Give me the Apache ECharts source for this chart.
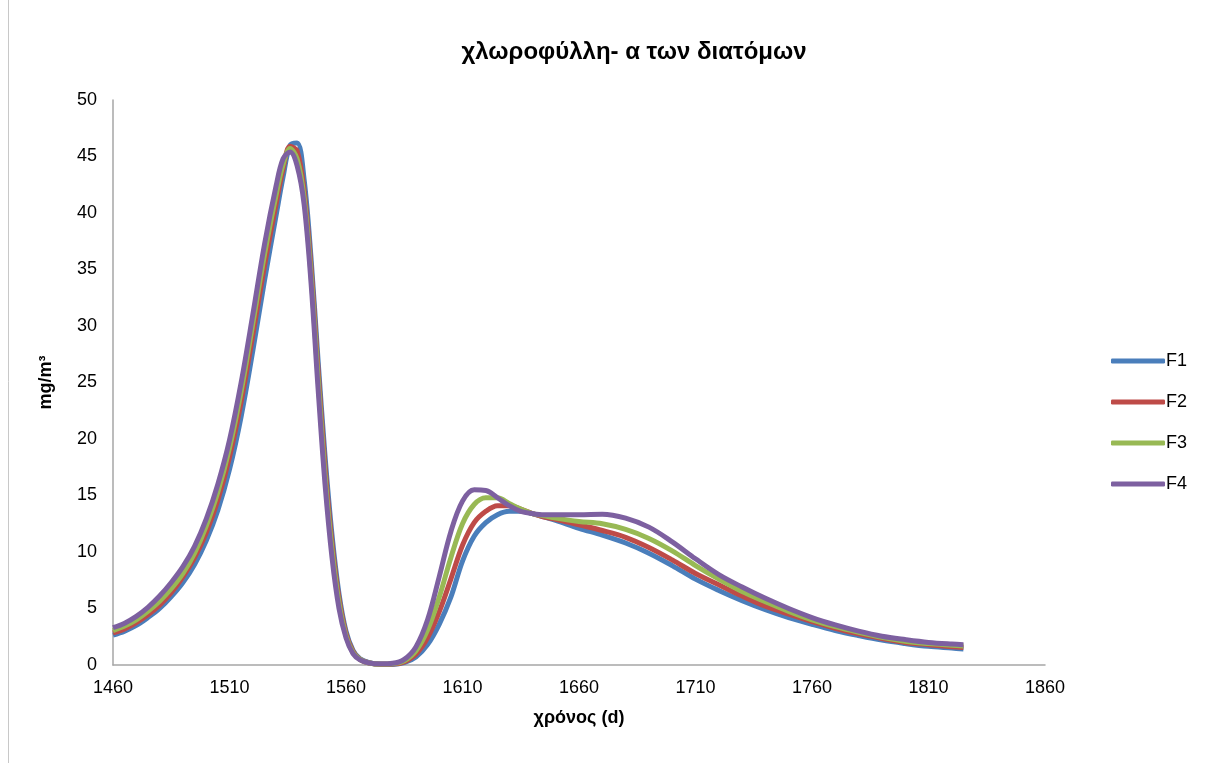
<!DOCTYPE html>
<html>
<head>
<meta charset="utf-8">
<script src="https://cdn.jsdelivr.net/npm/echarts@6/dist/echarts.min.js"></script>
<style>
html,body{margin:0;padding:0;background:#fff;}
#chart{width:1213px;height:763px;}
</style>
</head>
<body>
<div id="chart"></div>
<script>
const days = [1460,1465,1470,1475,1480,1485,1490,1495,1500,1505,1510,1515,1520,1525,1530,1533,1536,1539,1542,1545,1548,1551,1554,1557,1560,1563,1566,1570,1575,1580,1585,1590,1595,1600,1605,1610,1615,1620,1625,1630,1635,1640,1645,1650,1660,1670,1680,1690,1700,1710,1720,1730,1740,1750,1760,1770,1780,1790,1800,1810,1820,1825];

const F1 = [2.65,3.0,3.5,4.2,5.0,6.05,7.3,8.9,11.0,13.7,17.3,22.0,27.8,34.0,39.8,43.2,46.0,46.2,43.0,36.0,27.0,18.5,11.5,6.3,3.0,1.3,0.55,0.2,0.05,0.05,0.2,0.7,1.8,3.6,6.0,9.2,11.4,12.6,13.3,13.6,13.6,13.4,13.1,12.8,12.1,11.5,10.8,9.9,8.8,7.6,6.6,5.7,4.9,4.2,3.6,3.05,2.6,2.2,1.9,1.65,1.5,1.42];
const F2 = [2.85,3.2,3.75,4.45,5.3,6.4,7.8,9.5,11.7,14.6,18.4,23.3,29.2,35.3,40.8,43.9,45.9,45.5,42.0,35.2,26.2,17.6,10.8,5.9,2.8,1.2,0.5,0.18,0.06,0.08,0.28,0.95,2.4,4.7,7.6,10.6,12.6,13.6,14.1,14.1,13.8,13.4,13.1,12.9,12.4,11.9,11.3,10.4,9.3,8.1,7.1,6.1,5.2,4.5,3.85,3.25,2.75,2.35,2.0,1.8,1.62,1.55];
const F3 = [3.05,3.45,4.0,4.75,5.65,6.75,8.1,9.9,12.3,15.3,19.2,24.2,30.2,36.3,41.6,44.3,45.7,44.8,41.4,34.5,25.4,16.8,10.2,5.5,2.6,1.1,0.5,0.18,0.08,0.1,0.38,1.25,3.1,6.0,9.5,12.5,14.2,14.8,14.8,14.3,13.8,13.4,13.2,13.0,12.7,12.5,12.0,11.2,10.1,8.8,7.6,6.5,5.6,4.75,4.0,3.4,2.9,2.45,2.1,1.9,1.75,1.68];
const F4 = [3.3,3.7,4.3,5.1,6.1,7.3,8.7,10.5,12.9,16.0,19.9,25.0,31.0,37.2,42.4,44.8,45.4,44.2,40.8,33.8,24.5,16.0,9.5,5.0,2.4,1.0,0.45,0.18,0.1,0.15,0.5,1.6,4.0,7.8,11.8,14.5,15.5,15.45,14.8,14.1,13.6,13.4,13.3,13.3,13.3,13.35,13.0,12.2,10.9,9.4,8.0,6.9,5.9,5.0,4.2,3.55,3.0,2.55,2.25,2.0,1.85,1.8];

const seriesNames = ['F1','F2','F3','F4'];
const seriesColors = ['#4A7EBB','#BE4B48','#98B954','#7D60A0'];
const xTicks = [1460,1510,1560,1610,1660,1710,1760,1810,1860];
const yTicks = [0,5,10,15,20,25,30,35,40,45,50];

const allValues = [F1,F2,F3,F4];
const font = 'Liberation Sans, Arial, sans-serif';

const chart = echarts.init(document.getElementById('chart'), null, {renderer:'canvas'});
chart.setOption({
  backgroundColor:'#ffffff',
  animation:false,
  title:{
    text:'χλωροφύλλη- α των διατόμων',
    left:629, top:35, textAlign:'center',
    textStyle:{fontFamily:font, fontWeight:'bold', fontSize:24, color:'#000'}
  },
  legend:{
    orient:'vertical',
    left:1106, top:347,
    itemWidth:54, itemHeight:5, itemGap:23,
    icon:'roundRect',
    data:seriesNames,
    textStyle:{fontFamily:font, fontSize:18, color:'#000', padding:[0,0,0,-4]}
  },
  graphic:[{
    type:'line', shape:{x1:8.5,y1:0,x2:8.5,y2:763},
    style:{stroke:'#c8c8c8', lineWidth:1}
  }],
  grid:{left:113, right:168, top:100, bottom:98},
  xAxis:{
    type:'value', min:xTicks[0], max:xTicks[xTicks.length-1],
    name:'χρόνος (d)', nameLocation:'middle', nameGap:44,
    nameTextStyle:{fontFamily:font, fontWeight:'bold', fontSize:18, color:'#000'},
    axisLine:{show:true, lineStyle:{color:'#a6a6a6', width:1.5}},
    axisTick:{show:false},
    splitLine:{show:false},
    axisLabel:{customValues:xTicks, formatter:(v)=>String(v), fontFamily:font, fontSize:18, color:'#000', margin:14}
  },
  yAxis:{
    type:'value', min:yTicks[0], max:yTicks[yTicks.length-1], interval:5,
    name:'mg/m³', nameLocation:'middle', nameGap:58, nameRotate:90,
    nameTextStyle:{fontFamily:font, fontWeight:'bold', fontSize:18, color:'#000'},
    axisLine:{show:true, lineStyle:{color:'#a6a6a6', width:1.5}},
    axisTick:{show:false},
    splitLine:{show:false},
    axisLabel:{formatter:(v)=>String(v), fontFamily:font, fontSize:18, color:'#000', margin:16}
  },
  series: seriesNames.map((n,i)=>({
    name:n, type:'line', smooth:0.35, showSymbol:false, symbol:'none',
    data: days.map((d,j)=>[d, allValues[i][j]]),
    lineStyle:{color:seriesColors[i], width:5},
    itemStyle:{color:seriesColors[i]},
    z:2+i
  }))
});
</script>
</body>
</html>
